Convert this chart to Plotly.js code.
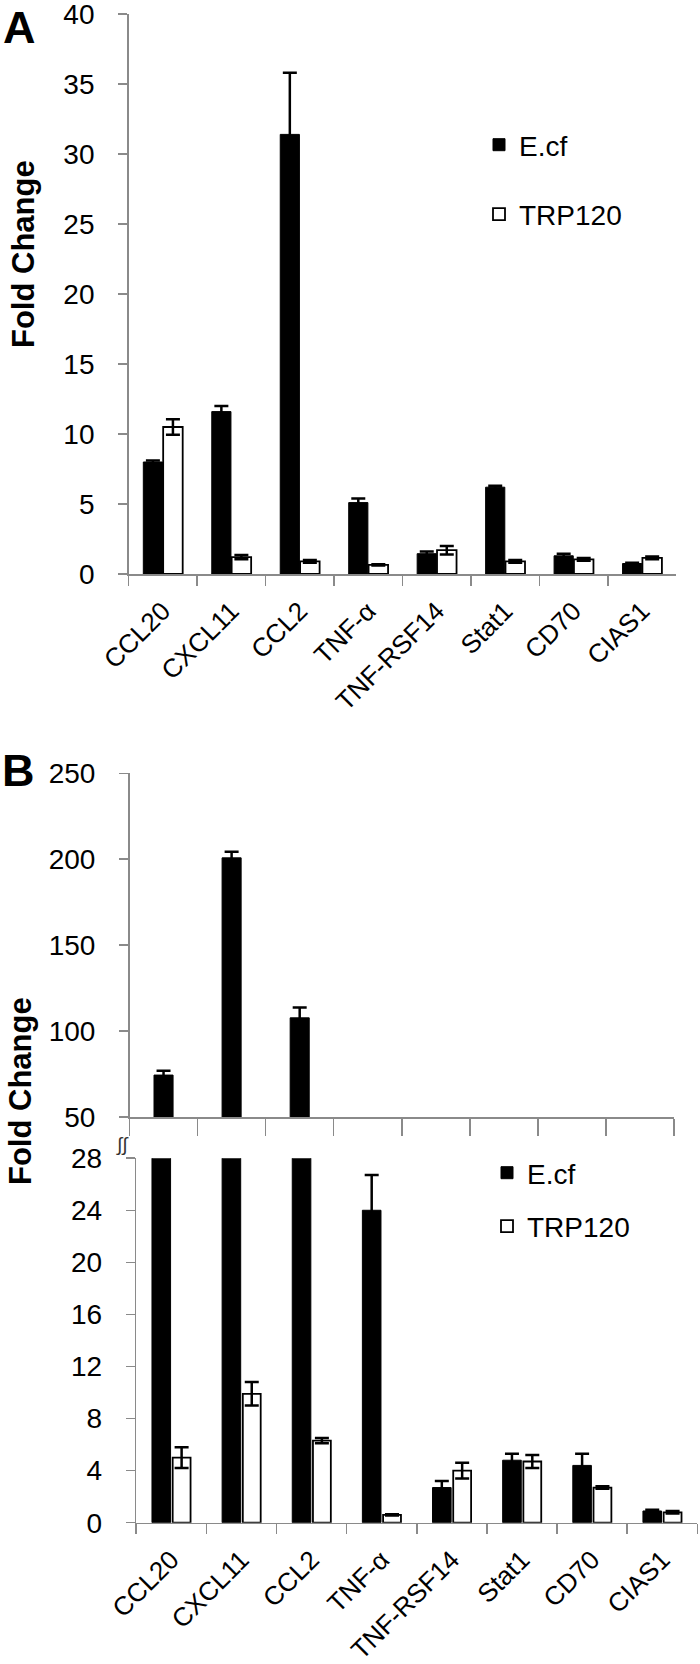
<!DOCTYPE html>
<html>
<head>
<meta charset="utf-8">
<script src="https://cdn.plot.ly/plotly-3.0.1.min.js"></script>
<style>html,body{margin:0;padding:0;background:#fff;}#chart{width:700px;height:1664px;}</style>
</head>
<body>
<div id="chart"></div>
<script>
// ---- data ----
const categories = ['CCL20', 'CXCL11', 'CCL2', 'TNF-α', 'TNF-RSF14', 'Stat1', 'CD70', 'CIAS1'];
const seriesNames = ['E.cf', 'TRP120'];

// Panel A
const aEcf    = [8.0, 11.6, 31.4, 5.1, 1.45, 6.2, 1.3, 0.75];
const aEcfErr = [0.1, 0.4, 4.4, 0.3, 0.15, 0.1, 0.15, 0.05];
const aTrp    = [10.5, 1.2, 0.9, 0.65, 1.7, 0.9, 1.05, 1.15];
const aTrpErr = [0.55, 0.15, 0.1, 0.05, 0.3, 0.1, 0.1, 0.1];

// Panel B
const bEcf    = [74.4, 200.8, 107.7, 24.0, 2.7, 4.8, 4.4, 0.9];
const bEcfErr = [2.5, 3.5, 6.0, 2.7, 0.5, 0.5, 0.9, 0.1];
const bTrp    = [5.0, 9.9, 6.3, 0.6, 4.0, 4.7, 2.7, 0.8];
const bTrpErr = [0.8, 0.9, 0.2, 0.05, 0.6, 0.5, 0.1, 0.1];

// ---- styling ----
const FONT = 'Liberation Sans, Arial, Helvetica, sans-serif';
const W = 700, H = 1664;
const px = v => v / W;
const py = v => 1 - v / H;

function err(arr) {
  return {type: 'data', array: arr, visible: true, symmetric: true, color: '#000', thickness: 2.5, width: 7};
}
const blackMarker = {color: '#000', line: {color: '#000', width: 1}};
const whiteMarker = {color: '#fff', line: {color: '#000', width: 1.8}};

const traces = [
  {type: 'bar', name: seriesNames[0], x: categories, y: aEcf, error_y: err(aEcfErr),
   marker: blackMarker, offset: -0.285, width: 0.28, xaxis: 'x', yaxis: 'y',
   legend: 'legend', legendgroup: 'a1'},
  {type: 'bar', name: seriesNames[1], x: categories, y: aTrp, error_y: err(aTrpErr),
   marker: whiteMarker, offset: 0.005, width: 0.285, xaxis: 'x', yaxis: 'y',
   legend: 'legend', legendgroup: 'a2'},
  {type: 'bar', name: seriesNames[0], x: categories, y: bEcf, error_y: err(bEcfErr),
   marker: blackMarker, offset: -0.14, width: 0.28, xaxis: 'x2', yaxis: 'y2',
   showlegend: false},
  {type: 'bar', name: seriesNames[0], x: categories, y: bEcf, error_y: err(bEcfErr),
   marker: blackMarker, offset: -0.275, width: 0.265, xaxis: 'x3', yaxis: 'y3',
   legend: 'legend2', legendgroup: 'b1'},
  {type: 'bar', name: seriesNames[1], x: categories, y: bTrp, error_y: err(bTrpErr),
   marker: whiteMarker, offset: 0.02, width: 0.255, xaxis: 'x3', yaxis: 'y3',
   legend: 'legend2', legendgroup: 'b2'}
];

const AX = '#8a8a8a';
function xAxis(domain, anchor, extra) {
  return Object.assign({
    type: 'category', domain: domain, anchor: anchor, showline: true, linecolor: AX, linewidth: 1.5,
    ticks: 'outside', tickson: 'boundaries', ticklen: 10, tickcolor: AX, tickwidth: 1.5,
    showgrid: false, zeroline: false, tickangle: -45, fixedrange: true,
    ticklabelstandoff: 10, ticklabeloverflow: 'allow',
    tickfont: {family: FONT, size: 26, color: '#000'}
  }, extra || {});
}
function yAxis(domain, anchor, range, dtick) {
  return {
    domain: domain, anchor: anchor, range: range, dtick: dtick, tick0: 0, showline: true,
    linecolor: AX, linewidth: 1.5, ticks: 'outside', ticklen: 9, tickcolor: AX, tickwidth: 1.5,
    showgrid: false, zeroline: false, ticklabelstandoff: 18, ticklabeloverflow: 'allow', fixedrange: true,
    tickfont: {family: FONT, size: 28, color: '#000'}
  };
}

const layout = {
  width: W, height: H,
  margin: {l: 0, r: 0, t: 0, b: 0},
  paper_bgcolor: '#fff', plot_bgcolor: 'rgba(0,0,0,0)',
  barmode: 'overlay',
  font: {family: FONT, color: '#000'},
  xaxis: xAxis([px(128.6), px(676.3)], 'y'),
  yaxis: yAxis([py(574), py(14)], 'x', [0, 40], 5),
  xaxis2: xAxis([px(129.5), px(674.1)], 'y2', {showticklabels: false, ticklen: 17}),
  yaxis2: yAxis([py(1117), py(773.3)], 'x2', [50, 250], 50),
  xaxis3: xAxis([px(136.2), px(697.3)], 'y3'),
  yaxis3: yAxis([py(1522.7), py(1158.2)], 'x3', [0, 28], 4),
  legend: {x: px(479), y: py(120), xanchor: 'left', yanchor: 'top', bgcolor: 'rgba(0,0,0,0)',
           font: {family: FONT, size: 28, color: '#000'}, tracegroupgap: 30, traceorder: 'grouped'},
  legend2: {x: px(487), y: py(1148), xanchor: 'left', yanchor: 'top', bgcolor: 'rgba(0,0,0,0)',
            font: {family: FONT, size: 28, color: '#000'}, tracegroupgap: 14, traceorder: 'grouped'},
  annotations: [
    {text: 'A', xref: 'paper', yref: 'paper', x: px(19), y: py(27), showarrow: false,
     xanchor: 'center', yanchor: 'middle', font: {family: FONT, size: 45, weight: 'bold', color: '#000'}},
    {text: 'B', xref: 'paper', yref: 'paper', x: px(18), y: py(770), showarrow: false,
     xanchor: 'center', yanchor: 'middle', font: {family: FONT, size: 45, weight: 'bold', color: '#000'}},
    {text: 'Fold Change', xref: 'paper', yref: 'paper', x: px(23), y: py(254), showarrow: false,
     textangle: -90, xanchor: 'center', yanchor: 'middle', font: {family: FONT, size: 31, weight: 'bold', color: '#000'}},
    {text: 'Fold Change', xref: 'paper', yref: 'paper', x: px(20), y: py(1091), showarrow: false,
     textangle: -90, xanchor: 'center', yanchor: 'middle', font: {family: FONT, size: 31, weight: 'bold', color: '#000'}},
    {text: '∫∫', xref: 'paper', yref: 'paper', x: px(122), y: py(1145), showarrow: false,
     xanchor: 'center', yanchor: 'middle', font: {family: FONT, size: 19, color: '#333'}}
  ]
};

Plotly.newPlot('chart', traces, layout, {staticPlot: true, displayModeBar: false});
</script>
</body>
</html>
